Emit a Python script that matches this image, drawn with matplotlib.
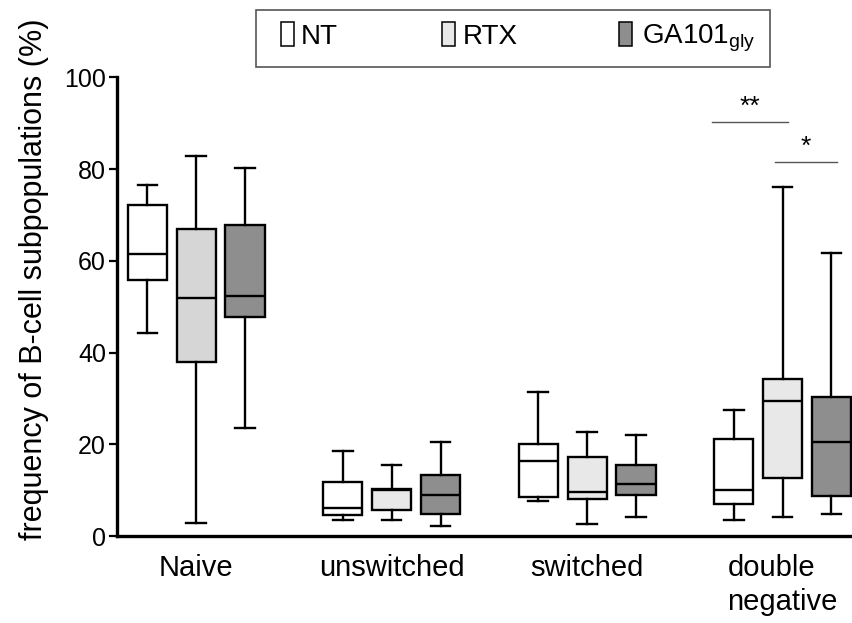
import matplotlib
matplotlib.use("Agg")
import matplotlib.pyplot as plt
from matplotlib.patches import Rectangle

plt.rcParams['font.family'] = ['Liberation Sans', 'DejaVu Sans']
plt.rcParams['mathtext.default'] = 'regular'

categories = ['Naive', 'unswitched', 'switched', 'double\nnegative']
series = ['NT', 'RTX', 'GA101$_{gly}$']

NT_min = [44.4, 3.5, 7.6, 3.6]
NT_q1 = [55.9, 4.6, 8.6, 7.0]
NT_med = [61.6, 6.2, 16.3, 10.1]
NT_q3 = [72.2, 11.9, 20.0, 21.1]
NT_max = [76.5, 18.5, 31.5, 27.5]

RTX_min = [3.0, 3.55, 2.75, 4.1]
RTX_q1 = [37.9, 5.7, 8.2, 12.8]
RTX_med = [52.0, 10.0, 9.7, 29.5]
RTX_q3 = [66.9, 10.4, 17.2, 34.2]
RTX_max = [82.9, 15.6, 22.8, 76.1]

GA_min = [23.6, 2.25, 4.1, 4.9]
GA_q1 = [47.8, 4.9, 9.1, 8.8]
GA_med = [52.4, 8.9, 11.5, 20.6]
GA_q3 = [67.8, 13.4, 15.5, 30.4]
GA_max = [80.2, 20.6, 22.1, 61.8]

# box fill colours per series, per category
NT_colors = ['#ffffff', '#ffffff', '#ffffff', '#ffffff']
RTX_colors = ['#d6d6d6', '#e8e8e8', '#e8e8e8', '#e8e8e8']
GA_colors = ['#8e8e8e', '#8e8e8e', '#8e8e8e', '#8e8e8e']
legend_colors = ['#ffffff', '#e8e8e8', '#8e8e8e']

# significance annotations
sig_cat = [3, 3]
sig_from = [0, 1]
sig_to = [1, 2]
sig_y = [90.2, 81.5]
sig_text = ['**', '*']

stats_all = [
    (NT_min, NT_q1, NT_med, NT_q3, NT_max, NT_colors),
    (RTX_min, RTX_q1, RTX_med, RTX_q3, RTX_max, RTX_colors),
    (GA_min, GA_q1, GA_med, GA_q3, GA_max, GA_colors),
]

W, H = 853, 623
fig = plt.figure(figsize=(W / 100, H / 100), dpi=100)
ax = fig.add_axes([117 / W, 86.7 / H, 1 - 117 / W, (536.3 - 77.3) / H])

offsets = [-0.25, 0.0, 0.25]
width = 0.2
lw = 1.7
for s, (mn, q1, md, q3, mx, cols) in enumerate(stats_all):
    bstats = []
    for i in range(len(categories)):
        bstats.append(dict(whislo=mn[i], q1=q1[i], med=md[i], q3=q3[i], whishi=mx[i], fliers=[]))
    pos = [i + offsets[s] for i in range(len(categories))]
    bp = ax.bxp(bstats, positions=pos, widths=width, patch_artist=True, showfliers=False,
                capwidths=0.1,
                boxprops=dict(edgecolor='black', linewidth=lw),
                medianprops=dict(color='black', linewidth=lw),
                whiskerprops=dict(color='black', linewidth=lw),
                capprops=dict(color='black', linewidth=lw))
    for patch, c in zip(bp['boxes'], cols):
        patch.set_facecolor(c)

sig_pad_left = [0.11, 0.04]
sig_pad_right = [0.03, 0.03]
for k, (c, a, b, y, t) in enumerate(zip(sig_cat, sig_from, sig_to, sig_y, sig_text)):
    x0 = c + offsets[a] - sig_pad_left[k]
    x1 = c + offsets[b] + sig_pad_right[k]
    ax.plot([x0, x1], [y, y], color='#555555', linewidth=1.0, clip_on=False)
    ax.text((x0 + x1) / 2, y + 0.8, t, ha='center', va='bottom', fontsize=19)

ax.set_xlim(-0.405, 3.36)
ax.set_ylim(0, 100)
ax.set_yticks([0, 20, 40, 60, 80, 100])
ax.set_xticks(range(len(categories)))
ax.set_xticklabels(categories, fontsize=21, linespacing=1.25, multialignment='left')
ax.tick_params(axis='x', length=0, pad=13)
ax.tick_params(axis='y', length=6, width=1.6, labelsize=18, pad=2)
for sp in ['top', 'right']:
    ax.spines[sp].set_visible(False)
ax.spines['left'].set_linewidth(2.4)
ax.spines['bottom'].set_linewidth(2.4)
ax.set_ylabel('frequency of B-cell subpopulations (%)', fontsize=22)
ax.yaxis.set_label_coords(-0.092, 0.56)

# legend drawn in figure pixel coordinates
lax = fig.add_axes([0, 0, 1, 1], facecolor='none')
lax.set_xlim(0, W)
lax.set_ylim(H, 0)
lax.axis('off')
lax.add_patch(Rectangle((256, 10), 514, 57, facecolor='white', edgecolor='#555555', linewidth=1.2))
patch_x = [281, 442, 619]
text_x = [301, 463, 642]
for s in range(3):
    lax.add_patch(Rectangle((patch_x[s], 21.7), 13, 24, facecolor=legend_colors[s],
                            edgecolor='black', linewidth=1.1))
    lax.text(text_x[s], 43.5, series[s], fontsize=20, ha='left', va='baseline')

fig.savefig('out.png', dpi=100)
